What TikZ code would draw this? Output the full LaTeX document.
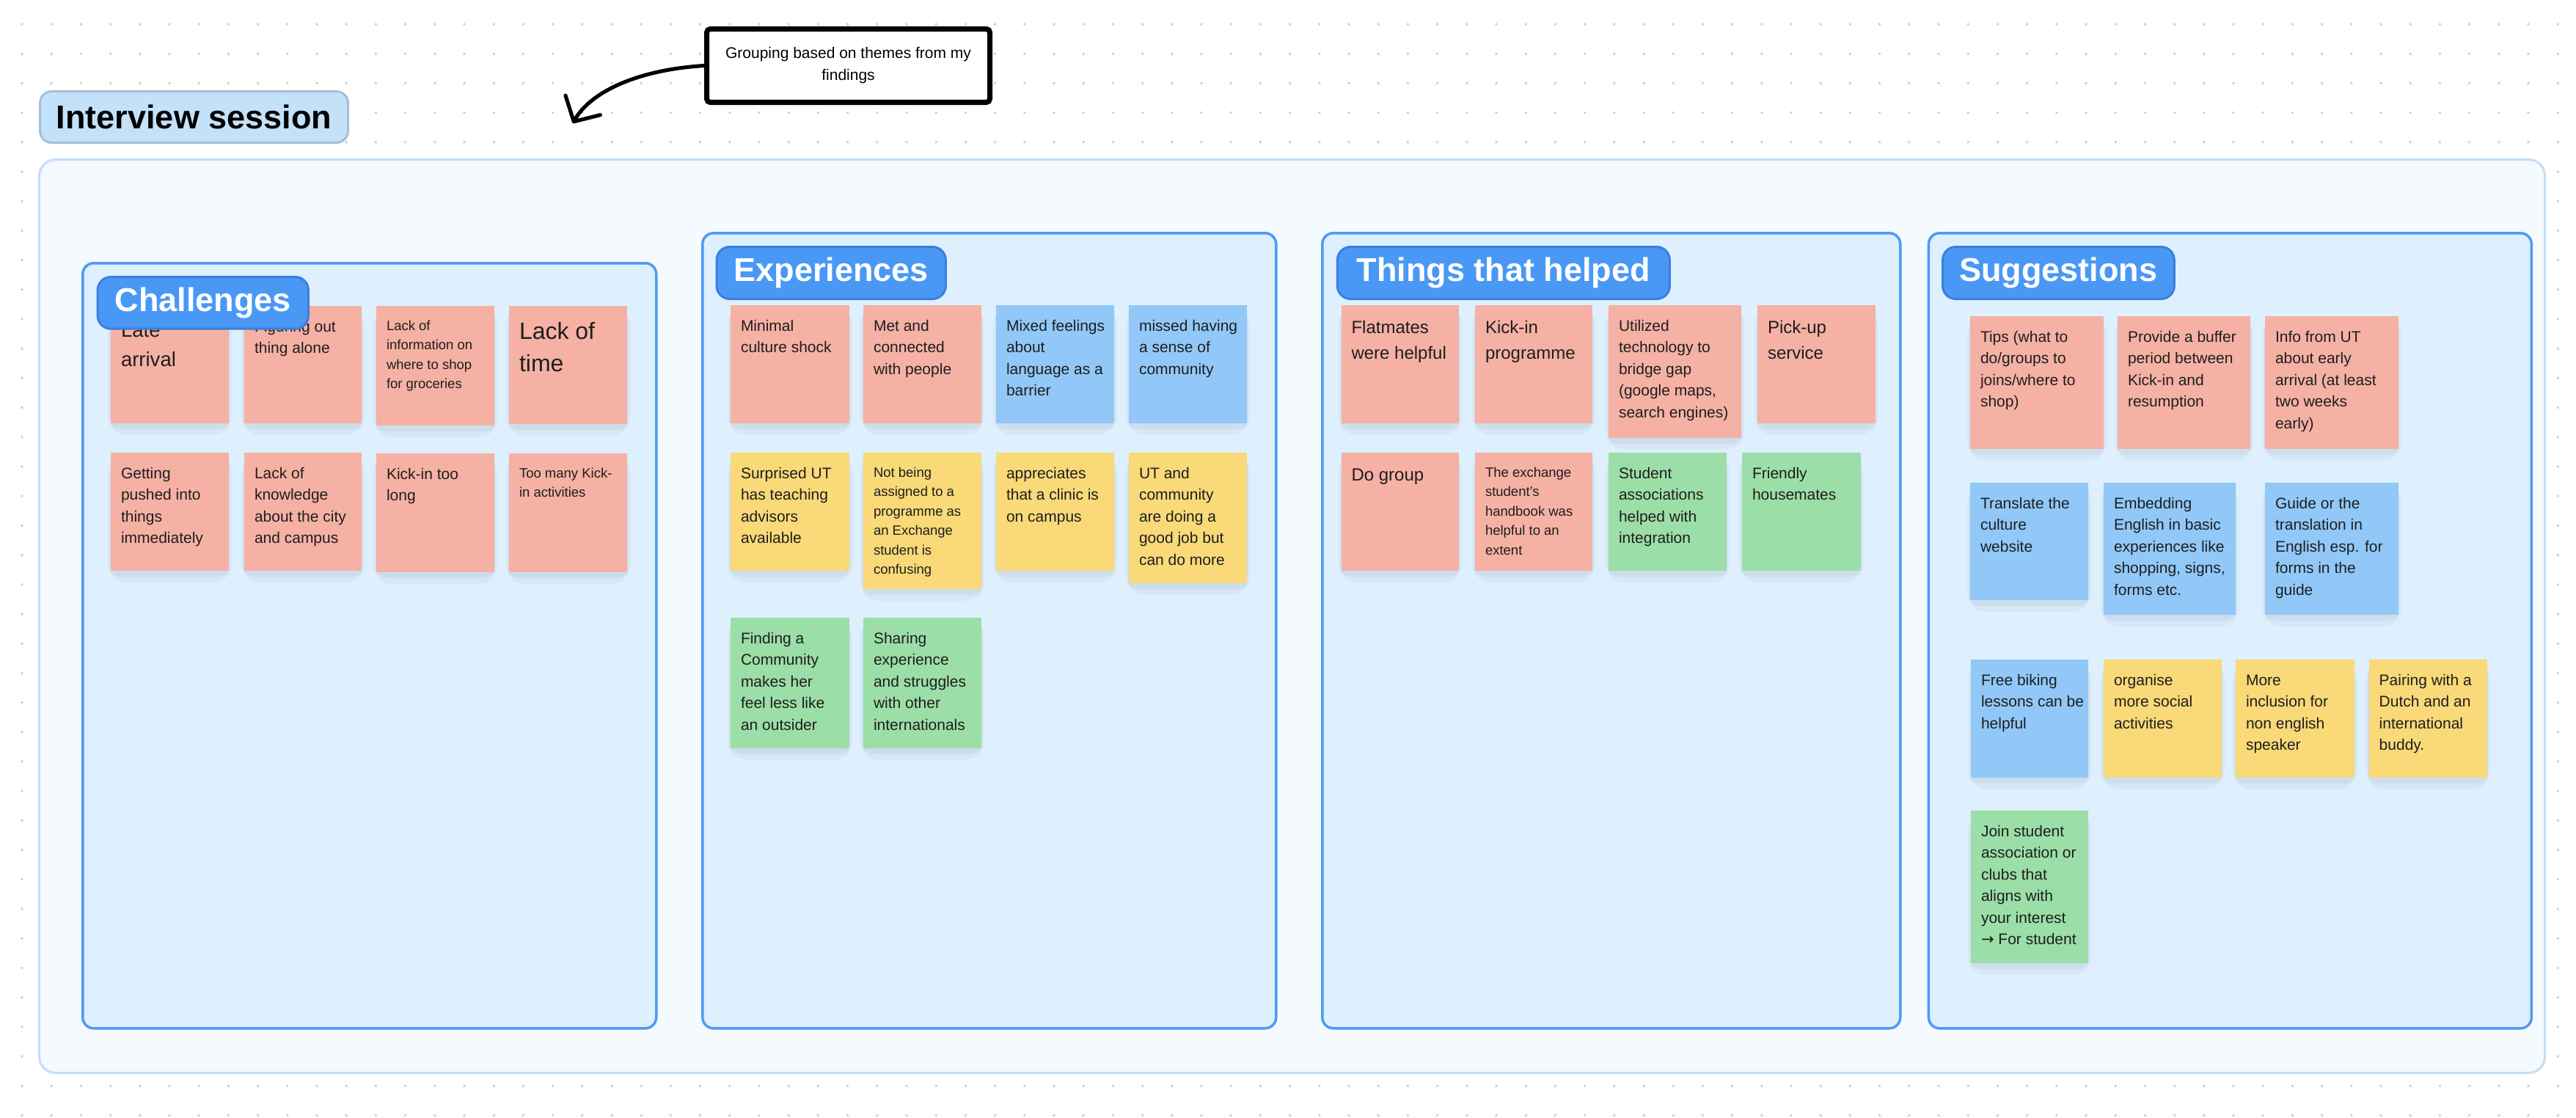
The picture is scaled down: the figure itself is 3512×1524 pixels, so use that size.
\documentclass[tikz,border=0pt]{standalone}
\usepackage{fontspec}
\setmainfont{Liberation Sans}
\newfontfamily\symfont{DejaVu Sans}
\usetikzlibrary{arrows.meta}
\definecolor{nred}{HTML}{F5B1A4}
\definecolor{nyel}{HTML}{F9D978}
\definecolor{nblu}{HTML}{91C8F8}
\definecolor{ngrn}{HTML}{9CDEA7}
\definecolor{secfill}{HTML}{DEEFFE}
\definecolor{secline}{HTML}{4E9BF3}
\definecolor{labfill}{HTML}{4A98F5}
\definecolor{labline}{HTML}{3B7FDE}
\definecolor{outfill}{HTML}{F5FAFF}
\definecolor{outln}{HTML}{C3DFFA}
\definecolor{ivfill}{HTML}{C4E1FA}
\definecolor{ivline}{HTML}{A5BFDA}
\definecolor{dotc}{HTML}{CDCDCD}
\definecolor{textc}{HTML}{1E1E1E}
\newcommand{\notestrut}{\rule{0pt}{\dimexpr0.5\baselineskip+0.26em\relax}}
\tikzset{
  notebox/.style={rectangle,draw=none,inner sep=0pt,outer sep=0pt,anchor=north west},
  ntxt/.style={anchor=north west,inner sep=0pt,outer sep=0pt,align=left,text=textc,font=\fontsize{6.56}{9.22}\selectfont},
  ntxts/.style={ntxt,font=\fontsize{5.78}{8.28}\selectfont},
  ntxtm/.style={ntxt,font=\fontsize{7.5}{10.94}\selectfont},
  ntxtl/.style={ntxt,font=\fontsize{8.6}{12.5}\selectfont},
  ntxtxl/.style={ntxt,font=\fontsize{10}{13.75}\selectfont},
  secbox/.style={rectangle,draw=secline,fill=secfill,line width=1.1pt,rounded corners=4.7pt,anchor=north west,inner sep=0pt},
  seclabel/.style={rectangle,draw=labline,fill=labfill,line width=0.95pt,rounded corners=5.6pt,anchor=north west,inner sep=0pt,text=white,font=\fontsize{14.06}{16}\selectfont\bfseries},
  outerbox/.style={rectangle,draw=outln,fill=outfill,line width=1pt,rounded corners=6.9pt,anchor=north west,inner sep=0pt},
  ivlabel/.style={rectangle,draw=ivline,fill=ivfill,line width=0.95pt,rounded corners=5pt,anchor=north west,inner sep=0pt,text=black,font=\fontsize{14.06}{16}\selectfont\bfseries},
  annot/.style={rectangle,draw=black,fill=white,line width=2.2pt,rounded corners=1.5pt,anchor=north west,inner sep=0pt,align=center,text=black,font=\fontsize{6.56}{9.375}\selectfont},
  handarrow/.style={draw=black,line width=1.6pt,line cap=round,line join=round,-{Straight Barb[length=8pt,width=17pt,round]}}
}
% name, left, top, width, height, colour, text style, text
\newcommand{\stickynote}[8]{%
  \fill[black,opacity=0.03,rounded corners=8] (#2-4,#3+2) rectangle (#2+#4+4,#3+#5+16);
  \fill[black,opacity=0.04,rounded corners=4] (#2-1,#3+3) rectangle (#2+#4+1,#3+#5+8);
  \node[notebox,fill=#6,minimum width={#4*0.3125pt},minimum height={#5*0.3125pt}] (#1) at (#2,#3) {};
  \node[#7] (#1t) at ([shift={(14,15)}]#1.north west) {\notestrut#8};
}
\begin{document}
\begin{tikzpicture}[x=0.3125pt,y=-0.3125pt]
\useasboundingbox (0,0) rectangle (3512,1524);
\fill[white] (0,0) rectangle (3512,1524);
% dot grid
\foreach \i in {0,...,86}{
  \foreach \j in {0,...,37}{
    \fill[dotc] (30+40.2*\i,33+40.2*\j) circle[radius=1.9];
  }
}
% outer container
\node[outerbox,minimum width={3416*0.3125pt},minimum height={1245*0.3125pt}] (outer) at (52,216) {};
% interview label
\node[ivlabel,minimum width={420*0.3125pt},minimum height={70*0.3125pt}] (iv) at (53,123) {Interview session};
% annotation
\node[annot,minimum width={386*0.3125pt},minimum height={100*0.3125pt}] (gbox) at (960,36) {Grouping based on themes from my\\findings};
\coordinate (atip) at (781,168);
\draw[handarrow] (gbox.west) .. controls (870,95) and (805,125) .. (atip);
% sections
\node[secbox,minimum width={782*0.3125pt},minimum height={1043*0.3125pt}] (secA) at (111,357) {};
\node[secbox,minimum width={782*0.3125pt},minimum height={1084*0.3125pt}] (secB) at (956,316) {};
\node[secbox,minimum width={788*0.3125pt},minimum height={1084*0.3125pt}] (secC) at (1801,316) {};
\node[secbox,minimum width={822*0.3125pt},minimum height={1084*0.3125pt}] (secD) at (2627.6,316) {};
% Challenges notes
\stickynote{c1}{151}{417}{161}{160}{nred}{ntxtl}{Late\\arrival}
\stickynote{c2}{333}{417}{160}{160}{nred}{ntxt}{Figuring out\\thing alone}
\stickynote{c3}{513}{417}{161}{163}{nred}{ntxts}{Lack of\\information on\\where to shop\\for groceries}
\stickynote{c4}{694}{417}{161}{161}{nred}{ntxtxl}{Lack of\\time}
\stickynote{c5}{151}{617}{161}{161}{nred}{ntxt}{Getting\\pushed into\\things\\immediately}
\stickynote{c6}{333}{617}{160}{161}{nred}{ntxt}{Lack of\\knowledge\\about the city\\and campus}
\stickynote{c7}{513}{618}{161}{162}{nred}{ntxt}{Kick-in too\\long}
\stickynote{c8}{694}{618}{161}{162}{nred}{ntxts}{Too many Kick-\\in activities}
% Experiences notes
\stickynote{e1}{996}{416}{162}{161}{nred}{ntxt}{Minimal\\culture shock}
\stickynote{e2}{1177}{416}{161}{161}{nred}{ntxt}{Met and\\connected\\with people}
\stickynote{e3}{1358}{416}{161}{161}{nblu}{ntxt}{Mixed feelings\\about\\language as a\\barrier}
\stickynote{e4}{1539}{416}{161}{161}{nblu}{ntxt}{missed having\\a sense of\\community}
\stickynote{e5}{996}{617}{162}{161}{nyel}{ntxt}{Surprised UT\\has teaching\\advisors\\available}
\stickynote{e6}{1177}{617}{161}{186}{nyel}{ntxts}{Not being\\assigned to a\\programme as\\an Exchange\\student is\\confusing}
\stickynote{e7}{1358}{617}{161}{161}{nyel}{ntxt}{appreciates\\that a clinic is\\on campus}
\stickynote{e8}{1539}{617}{161}{178}{nyel}{ntxt}{UT and\\community\\are doing a\\good job but\\can do more}
\stickynote{e9}{996}{842}{162}{178}{ngrn}{ntxt}{Finding a\\Community\\makes her\\feel less like\\an outsider}
\stickynote{e10}{1177}{842}{161}{178}{ngrn}{ntxt}{Sharing\\experience\\and struggles\\with other\\internationals}
% Things that helped notes
\stickynote{t1}{1828.5}{416}{160.5}{161}{nred}{ntxtm}{Flatmates\\were helpful}
\stickynote{t2}{2011}{416}{160}{161}{nred}{ntxtm}{Kick-in\\programme}
\stickynote{t3}{2193}{416}{181}{181}{nred}{ntxt}{Utilized\\technology to\\bridge gap\\(google maps,\\search engines)}
\stickynote{t4}{2396}{416}{160.5}{161}{nred}{ntxtm}{Pick-up\\service}
\stickynote{t5}{1828.5}{617}{160.5}{161}{nred}{ntxtm}{Do group}
\stickynote{t6}{2011}{617}{160}{161}{nred}{ntxts}{The exchange\\student's\\handbook was\\helpful to an\\extent}
\stickynote{t7}{2193}{617}{161}{161}{ngrn}{ntxt}{Student\\associations\\helped with\\integration}
\stickynote{t8}{2375}{617}{161.5}{161}{ngrn}{ntxt}{Friendly\\housemates}
% Suggestions notes
\stickynote{s1}{2686}{431}{182}{181}{nred}{ntxt}{Tips (what to\\do/groups to\\joins/where to\\shop)}
\stickynote{s2}{2887}{431}{181}{181}{nred}{ntxt}{Provide a buffer\\period between\\Kick-in and\\resumption}
\stickynote{s3}{3088}{431}{182}{181}{nred}{ntxt}{Info from UT\\about early\\arrival (at least\\two weeks\\early)}
\stickynote{s4}{2686}{658}{161}{160}{nblu}{ntxt}{Translate the\\culture\\website}
\stickynote{s5}{2868}{658}{180}{180}{nblu}{ntxt}{Embedding\\English in basic\\experiences like\\shopping, signs,\\forms etc.}
\stickynote{s6}{3088}{658}{182}{180}{nblu}{ntxt}{Guide or the\\translation in\\English esp. for\\forms in the\\guide}
\stickynote{s7}{2687}{899}{160}{161}{nblu}{ntxt}{Free biking\\lessons can be\\helpful}
\stickynote{s8}{2868}{899}{161}{161}{nyel}{ntxt}{organise\\more social\\activities}
\stickynote{s9}{3048}{899}{161.6}{161}{nyel}{ntxt}{More\\inclusion for\\non english\\speaker}
\stickynote{s10}{3229.7}{899}{161}{161}{nyel}{ntxt}{Pairing with a\\Dutch and an\\international\\buddy.}
\stickynote{s11}{2687}{1105}{160}{208}{ngrn}{ntxt}{Join student\\association or\\clubs that\\aligns with\\your interest\\{\symfont →} For student}
% section labels
\node[seclabel,minimum width={287.3*0.3125pt},minimum height={70.7*0.3125pt}] (labA) at (131.6,376) {Challenges};
\node[seclabel,minimum width={312.3*0.3125pt},minimum height={71*0.3125pt}] (labB) at (975.5,335) {Experiences};
\node[seclabel,minimum width={453.1*0.3125pt},minimum height={71*0.3125pt}] (labC) at (1821.8,335) {Things that helped};
\node[seclabel,minimum width={315.8*0.3125pt},minimum height={71*0.3125pt}] (labD) at (2647,335) {Suggestions};
\end{tikzpicture}
\end{document}
